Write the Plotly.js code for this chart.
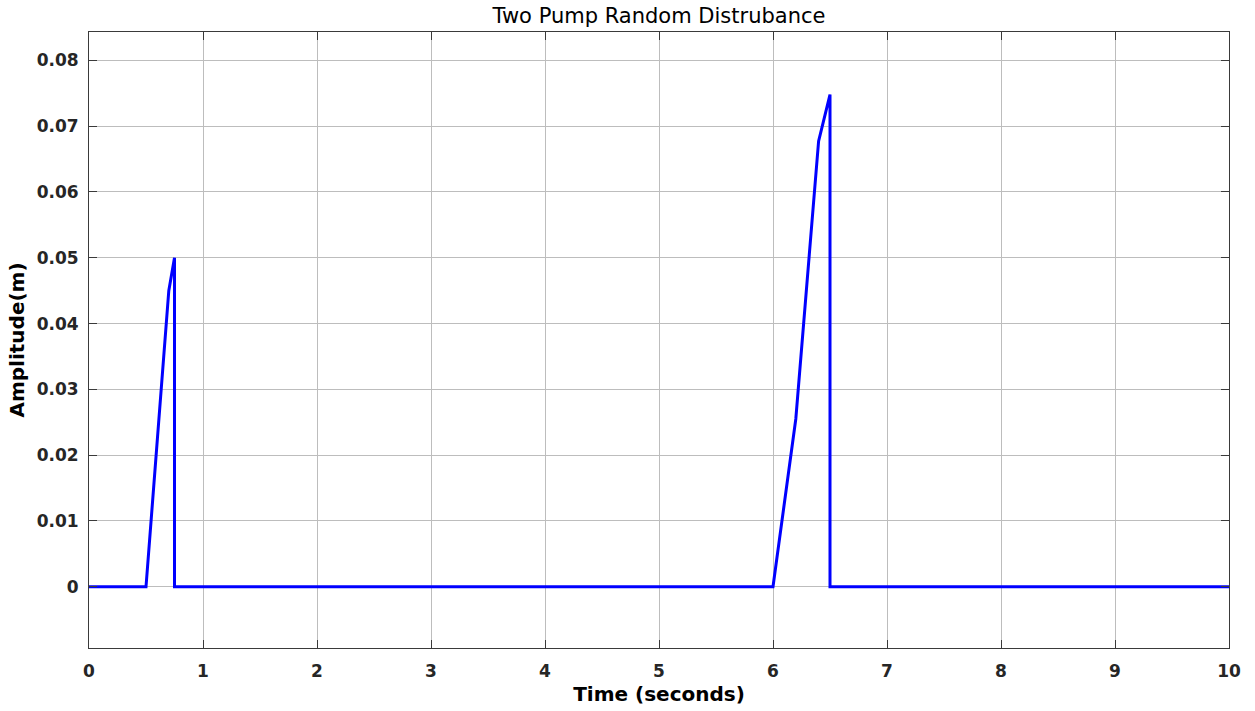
<!DOCTYPE html>
<html>
<head>
<meta charset="utf-8">
<script src="https://cdn.plot.ly/plotly-3.0.1.min.js"></script>
<style>html,body{margin:0;padding:0;background:#fff}#chart{width:1255px;height:711px}</style>
</head>
<body>
<div id="chart"></div>
<script>
// Data
var timeSeconds = [0, 0.5, 0.6, 0.7, 0.75, 0.75, 6.0, 6.2, 6.4, 6.5, 6.5, 10];
var amplitude   = [0, 0, 0.0225, 0.045, 0.05, 0, 0, 0.0255, 0.0677, 0.0748, 0, 0];
var xTicks = [0,1,2,3,4,5,6,7,8,9,10];
var yTicks = [0, 0.01, 0.02, 0.03, 0.04, 0.05, 0.06, 0.07, 0.08];
var yTickText = ['0','0.01','0.02','0.03','0.04','0.05','0.06','0.07','0.08'];

var trace = {
  x: timeSeconds, y: amplitude, type: 'scatter', mode: 'lines',
  line: {color: '#0000ff', width: 3}, hoverinfo: 'skip'
};

var FONT = 'DejaVu Sans, Liberation Sans, Arial, sans-serif';
var tickFont = {family: FONT, size: 17, color: '#262626', weight: 'bold'};

var layout = {
  width: 1255, height: 711,
  margin: {l: 89, r: 26, t: 32, b: 63, pad: 0},
  paper_bgcolor: '#ffffff', plot_bgcolor: '#ffffff',
  showlegend: false,
  title: {
    text: 'Two Pump Random Distrubance',
    font: {family: FONT, size: 21, color: '#000000'},
    x: 0.5, xref: 'paper', y: 1 - 16/711, yref: 'container', yanchor: 'middle'
  },
  xaxis: {
    range: [0, 10], tickmode: 'array', tickvals: xTicks, ticktext: xTicks.map(String),
    showgrid: true, gridcolor: '#bdbdbd', gridwidth: 1,
    zeroline: false, showline: true, linecolor: '#3a3a3a', linewidth: 1, mirror: 'ticks',
    ticks: 'inside', ticklen: 8, tickcolor: '#3a3a3a', tickwidth: 1,
    tickfont: tickFont, ticklabelstandoff: 8,
    title: {text: 'Time (seconds)', font: {family: FONT, size: 20, color: '#000000', weight: 'bold'}, standoff: 6}
  },
  yaxis: {
    range: [-0.0093, 0.0843], tickmode: 'array', tickvals: yTicks, ticktext: yTickText,
    showgrid: true, gridcolor: '#bdbdbd', gridwidth: 1,
    zeroline: false, showline: true, linecolor: '#3a3a3a', linewidth: 1, mirror: 'ticks',
    ticks: 'inside', ticklen: 8, tickcolor: '#3a3a3a', tickwidth: 1,
    tickfont: tickFont, ticklabelstandoff: 6,
    title: {text: 'Amplitude(m)', font: {family: FONT, size: 20, color: '#000000', weight: 'bold'}, standoff: 6}
  }
};

Plotly.newPlot('chart', [trace], layout, {displayModeBar: false, staticPlot: true});
</script>
</body>
</html>
